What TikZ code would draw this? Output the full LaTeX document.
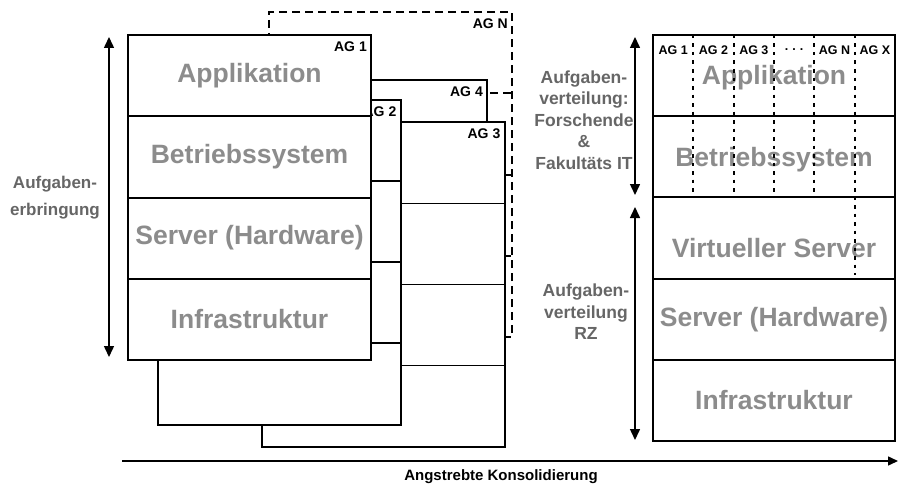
\documentclass[tikz,border=0pt]{standalone}
\usepackage{fontspec}
\setmainfont{Liberation Sans}
\usetikzlibrary{arrows.meta,calc}
\definecolor{layertext}{HTML}{8C8C8C}
\definecolor{sidetext}{HTML}{666666}

\begin{document}
\begin{tikzpicture}[x=1pt,y=-1pt,
  layerbox/.style={draw, line width=2pt, fill=white, minimum width=243pt,
    minimum height=325pt, inner sep=0pt, outer sep=0pt},
  dashedbox/.style={layerbox, dash pattern=on 8pt off 5pt},
  rowline/.style={line width=2pt},
  thinrow/.style={line width=1.2pt},
  dashrow/.style={line width=2pt, dash pattern=on 8pt off 5pt},
  colline/.style={line width=1.7pt, dash pattern=on 3.5pt off 5pt},
  aglabel/.style={anchor=north east, font=\bfseries\fontsize{14}{16}\selectfont,
    inner sep=0pt, xshift=-4pt, yshift=-7pt},
  collabel/.style={font=\bfseries\fontsize{12.5}{14}\selectfont, inner sep=0pt},
  layertitle/.style={font=\bfseries\fontsize{26.5}{30}\selectfont, text=layertext},
  sidelabel/.style={font=\bfseries\fontsize{17.5}{21.5}\selectfont, text=sidetext, align=center},
  axis/.style={line width=1.5pt, -{Triangle[length=10pt,width=9pt]}},
  twoway/.style={line width=1.5pt, {Triangle[length=11pt,width=10pt]}-{Triangle[length=11pt,width=10pt]}}
]
\useasboundingbox (0,0) rectangle (899,487);

% --- stacked work-group stacks, back to front ---
% AG N (dashed, furthest back)
\node[dashedbox] (agn) at (390.5,174.5) {};
\foreach \f in {0.25,0.5,0.75}
  \draw[dashrow] ($(agn.north west)!\f!(agn.south west)$) -- ($(agn.north east)!\f!(agn.south east)$);
\node[aglabel] at (agn.north east) {AG N};

% AG 4
\node[layerbox] (ag4) at (365.5,242.5) {};
\foreach \f in {0.25,0.5,0.75}
  \draw[rowline] ($(ag4.north west)!\f!(ag4.south west)$) -- ($(ag4.north east)!\f!(ag4.south east)$);
\node[aglabel] at (ag4.north east) {AG 4};

% AG 3
\node[layerbox] (ag3) at (383,284.5) {};
\foreach \f in {0.25,0.5,0.75}
  \draw[thinrow] ($(ag3.north west)!\f!(ag3.south west)$) -- ($(ag3.north east)!\f!(ag3.south east)$);
\node[aglabel] at (ag3.north east) {AG 3};

% AG 2
\node[layerbox] (ag2) at (279,262) {};
\foreach \f in {0.25,0.5,0.75}
  \draw[rowline] ($(ag2.north west)!\f!(ag2.south west)$) -- ($(ag2.north east)!\f!(ag2.south east)$);
\node[aglabel] at (ag2.north east) {AG 2};

% AG 1 (front)
\node[layerbox] (ag1) at (249.5,197.5) {};
\foreach \f in {0.25,0.5,0.75}
  \draw[rowline] ($(ag1.north west)!\f!(ag1.south west)$) -- ($(ag1.north east)!\f!(ag1.south east)$);
\node[aglabel] at (ag1.north east) {AG 1};
\node[layertitle] at ($(ag1.north)!0.125!(ag1.south)$) {Applikation};
\node[layertitle] at ($(ag1.north)!0.375!(ag1.south)$) {Betriebssystem};
\node[layertitle] at ($(ag1.north)!0.625!(ag1.south)$) {Server (Hardware)};
\node[layertitle] at ($(ag1.north)!0.875!(ag1.south)$) {Infrastruktur};

% left double arrow
\coordinate (lt) at (109,37);
\coordinate (lb) at (109,357);
\draw[twoway] (lt) -- (lb);
\node[sidelabel, font=\bfseries\fontsize{17}{27}\selectfont] (erbr) at (55,198) {Aufgaben-\\erbringung};

% --- consolidated stack ---
\node[draw, line width=2pt, fill=white, minimum width=242pt, minimum height=406pt,
  inner sep=0pt, outer sep=0pt] (rb) at (774,238) {};
\foreach \f in {0.2,0.4,0.6,0.8}
  \draw[rowline] ($(rb.north west)!\f!(rb.south west)$) -- ($(rb.north east)!\f!(rb.south east)$);
\node[layertitle] at (774,78) {Applikation};
\node[layertitle] at (774,160) {Betriebssystem};
\node[layertitle] at (774,248) {Virtueller Server};
\node[layertitle] at (774,320) {Server (Hardware)};
\node[layertitle] at (774,400) {Infrastruktur};

% column separators for the work groups
\foreach \k in {1,2,3,4}
  \draw[colline] ($(rb.north west)!\k/6!(rb.north east)$) -- ++(0,163);
\draw[colline] ($(rb.north west)!5/6!(rb.north east)$) -- ++(0,240);
\foreach \k/\t in {0/AG 1,1/AG 2,2/AG 3,3/{.\hspace{4pt}.\hspace{4pt}.},4/AG N,5/AG X}
  \node[collabel] at ($(rb.north west)!{(\k+0.5)/6}!(rb.north east)+(0,15)$) {\t};

% right double arrows
\coordinate (rt1) at (635,37);
\coordinate (rb1) at (635,195);
\coordinate (rt2) at (635,207);
\coordinate (rb2) at (635,440);
\draw[twoway] (rt1) -- (rb1);
\draw[twoway] (rt2) -- (rb2);
\node[sidelabel] (forsch) at (584,120) {Aufgaben-\\verteilung:\\Forschende\\\&\\Fakultäts IT};
\node[sidelabel] (rz) at (586,312) {Aufgaben-\\verteilung\\RZ};

% consolidation axis
\coordinate (ax0) at (122,461);
\coordinate (ax1) at (898,461);
\draw[axis] (ax0) -- (ax1);
\node[font=\bfseries\fontsize{15}{17}\selectfont] (axlab) at (501,477) {Angstrebte Konsolidierung};
\end{tikzpicture}
\end{document}
